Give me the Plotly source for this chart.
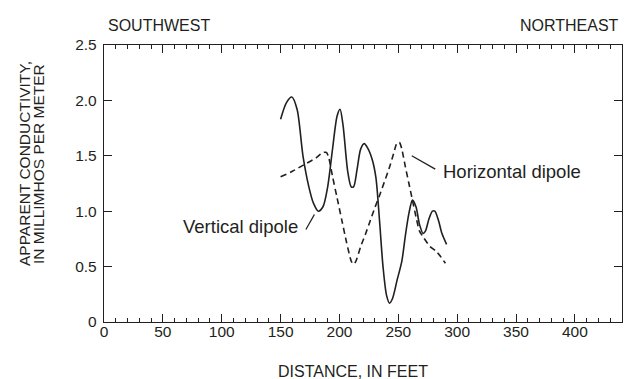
import plotly.graph_objects as go

# Vertical dipole (solid curve)
vert_x = [150, 155, 159.5, 164, 169, 174, 178, 182, 186, 190, 194, 198, 200.5, 203, 207, 210, 212,
          215, 218, 221, 224, 228, 231, 234, 237, 240, 242.5, 245, 249, 253, 256, 259, 262, 265,
          268, 271, 273, 276, 279, 281, 284, 287, 291]
vert_y = [1.83, 1.98, 2.03, 1.92, 1.50, 1.22, 1.07, 1.00, 1.04, 1.22, 1.55, 1.86, 1.92, 1.78, 1.36,
          1.22, 1.22, 1.38, 1.56, 1.61, 1.57, 1.46, 1.30, 0.92, 0.50, 0.24, 0.17, 0.21, 0.38, 0.55,
          0.78, 0.98, 1.10, 1.04, 0.88, 0.80, 0.82, 0.93, 1.00, 1.00, 0.92, 0.80, 0.70]

# Horizontal dipole (dashed curve)
horiz_x = [150, 160, 170, 180, 186, 189, 191, 194, 198, 202, 206, 210, 212, 214, 218, 222, 226,
           230, 234, 238, 242, 246, 249, 251, 253, 256, 259, 262, 265, 268, 271, 277, 283, 290]
horiz_y = [1.31, 1.36, 1.42, 1.48, 1.53, 1.53, 1.48, 1.32, 1.12, 0.92, 0.72, 0.55, 0.52, 0.55,
           0.68, 0.79, 0.91, 1.03, 1.14, 1.26, 1.38, 1.52, 1.62, 1.62, 1.56, 1.40, 1.25, 1.10,
           0.95, 0.82, 0.77, 0.68, 0.63, 0.53]

x_tickvals = [0, 50, 100, 150, 200, 250, 300, 350, 400]
x_ticktext = ["0", "50", "100", "150", "200", "250", "300", "350", "400"]
y_tickvals = [0, 0.5, 1.0, 1.5, 2.0, 2.5]
y_ticktext = ["0", "0.5", "1.0", "1.5", "2.0", "2.5"]

INK = "#231f20"
FONT = "Liberation Sans, Arial, sans-serif"

fig = go.Figure()
fig.add_trace(go.Scatter(x=vert_x, y=vert_y, mode="lines",
                         line=dict(color=INK, width=1.6, shape="spline", smoothing=0.8),
                         name="Vertical dipole", showlegend=False, hoverinfo="skip"))
fig.add_trace(go.Scatter(x=horiz_x, y=horiz_y, mode="lines",
                         line=dict(color=INK, width=1.6, dash="6px,4px", shape="spline", smoothing=0.6),
                         name="Horizontal dipole", showlegend=False, hoverinfo="skip"))

L, R, T, B = 104, 10, 45, 57
W, H = 632, 379
pw, ph = W - L - R, H - T - B


def px(xp):
    return (xp - L) / pw


def py(yp):
    return (H - B - yp) / ph


fig.update_layout(
    width=W, height=H,
    margin=dict(l=L, r=R, t=T, b=B),
    paper_bgcolor="white", plot_bgcolor="white",
    font=dict(family=FONT, color=INK, size=15),
    xaxis=dict(range=[0, 440], tickvals=x_tickvals, ticktext=x_ticktext,
               ticks="inside", ticklen=8, tickwidth=1.2, tickcolor=INK,
               showline=True, linecolor=INK, linewidth=1.4, mirror="allticks",
               showgrid=False, zeroline=False,
               minor=dict(dtick=10, ticks="inside", ticklen=4, tickwidth=1.1, tickcolor=INK, showgrid=False),
               tickfont=dict(size=15.5), ticklabelstandoff=-5),
    yaxis=dict(range=[0, 2.5], tickvals=y_tickvals, ticktext=y_ticktext,
               ticks="inside", ticklen=8, tickwidth=1.2, tickcolor=INK,
               showline=True, linecolor=INK, linewidth=1.4, mirror="allticks",
               showgrid=False, zeroline=False, tickfont=dict(size=15.5),
               ticklabelstandoff=3),
)

annos = [
    dict(text="SOUTHWEST", x=px(106), y=py(25), xanchor="left", yanchor="middle", size=16, angle=0),
    dict(text="NORTHEAST", x=px(621), y=py(25), xanchor="right", yanchor="middle", size=16, angle=0),
    dict(text="DISTANCE, IN FEET", x=px(353), y=py(371), xanchor="center", yanchor="middle", size=16, angle=0),
    dict(text="APPARENT CONDUCTIVITY,", x=px(24), y=py(164), xanchor="center", yanchor="middle", size=15.5, angle=-90),
    dict(text="IN MILLIMHOS PER METER", x=px(38), y=py(164), xanchor="center", yanchor="middle", size=15.5, angle=-90),
    dict(text="Vertical dipole", x=px(181), y=py(226), xanchor="left", yanchor="middle", size=18.5, angle=0),
    dict(text="Horizontal dipole", x=px(441), y=py(171), xanchor="left", yanchor="middle", size=18.5, angle=0),
]
for a in annos:
    fig.add_annotation(text=a["text"], x=a["x"], y=a["y"], xref="paper", yref="paper",
                       xanchor=a["xanchor"], yanchor=a["yanchor"], showarrow=False,
                       textangle=a["angle"], font=dict(size=a["size"], color=INK, family=FONT))

# leader lines (data coordinates)
leaders = [((171.5, 0.835), (178.7, 0.97)), ((261.4, 1.50), (281.4, 1.38))]
for (x0, y0), (x1, y1) in leaders:
    fig.add_shape(type="line", x0=x0, y0=y0, x1=x1, y1=y1, xref="x", yref="y",
                  line=dict(color=INK, width=1.3))

fig.write_html("out.html")
